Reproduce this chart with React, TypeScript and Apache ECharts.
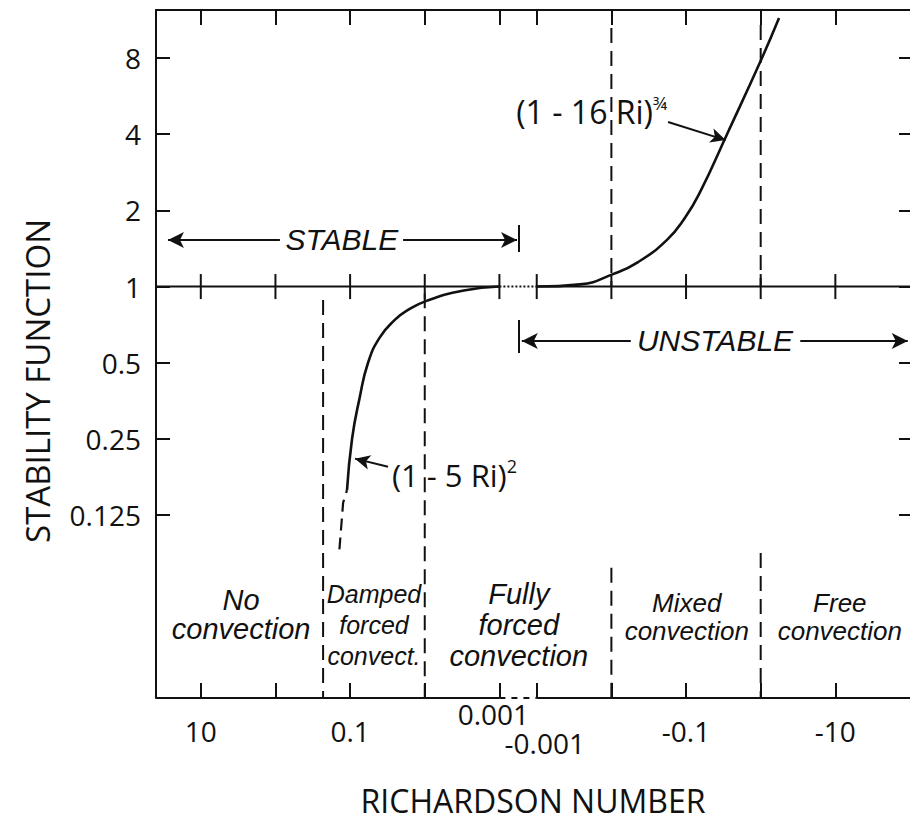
import React, { useEffect, useRef } from "react";
import * as echarts from "echarts";

// ---------- broken logarithmic Richardson-number axis ----------
// stable side (Ri > 0): position = -log10(Ri); unstable side continues after a gap
const GAP_DECADES = 0.5;
const riToU = (ri: number): number =>
  ri > 0 ? -Math.log10(ri) : 3 + GAP_DECADES + (Math.log10(-ri) + 3);

const X_MIN = -1.6;
const X_MAX = 8.5;
const Y_MIN = Math.pow(2, -5.4);
const Y_MAX = Math.pow(2, 3.63);

// ---------- ticks and tick labels ----------
const xTickRi = [10, 1, 0.1, 0.01, 0.001, -0.001, -0.01, -0.1, -1, -10];
const xLabelRi = [10, 0.1, 0.001, -0.001, -0.1, -10];
const xLabelText = ["10", "0.1", "0.001", "-0.001", "-0.1", "-10"];
const yTickValues = [0.125, 0.25, 0.5, 1, 2, 4, 8];
const yTickText = ["0.125", "0.25", "0.5", "1", "2", "4", "8"];

// ---------- curves ----------
// stable: (1 - 5 Ri)^2  (solid part)
const stableRi = [0.11, 0.0942, 0.075, 0.0575, 0.04, 0.025, 0.0178, 0.0093, 0.003, 0.001];
const stablePhi = [0.157, 0.25, 0.36, 0.5, 0.63, 0.74, 0.8, 0.88, 0.965, 1.0];
// stable: dashed tail
const stableTailRi = [0.139, 0.124, 0.11];
const stableTailPhi = [0.0915, 0.14, 0.157];
// unstable: (1 - 16 Ri)^(3/4)
const unstableRi = [-0.001, -0.0038, -0.0105, -0.0228, -0.0556, -0.0968, -0.154, -0.354, -1.04, -1.76];
const unstablePhi = [1.0, 1.02, 1.12, 1.25, 1.53, 1.87, 2.36, 4.0, 8.0, 11.5];

// ---------- regime boundaries (dashed verticals) ----------
const boundaryRi = [0.23, 0.01, -0.01, -0.01, -1, -1];
const boundaryTopPhi = [0.885, 0.94, 10.5, 0.0775, 10.8, 0.0885];
const boundaryBottomPhi = [Y_MIN, Y_MIN, 1, Y_MIN, 1, Y_MIN];

// ---------- regime names ----------
const regionNames = [
  "No\nconvection",
  "Damped\nforced\nconvect.",
  "Fully\nforced\nconvection",
  "Mixed\nconvection",
  "Free\nconvection",
];
const regionU = [-0.46, 1.32, 3.26, 5.51, 7.56];
const regionPhi = [0.0504, 0.046, 0.046, 0.0495, 0.0495];
const regionFont = [29, 25, 29, 26, 26];
const regionLineHeight = [29, 31, 31, 28, 28];

// ---------- stability-range arrows ----------
const rangeNames = ["STABLE", "UNSTABLE"];
const rangeTextU = [0.889, 5.888];
const rangePhi = [1.528, 0.61];
const rangeLeftArrow = [[-1.44, 0.06], [3.3, 4.76]];
const rangeRightArrow = [[1.71, 3.236], [7.03, 8.47]];
const rangeBarU = 3.263;
const rangeBarPhi = [[1.75, 1.37], [0.738, 0.547]];

const BLACK = "#111";
const LABEL_FONT = "'Open Sans', 'DejaVu Sans', sans-serif";
const ITALIC_FONT = "'Liberation Sans', Arial, sans-serif";

const pts = (ri: number[], phi: number[]) => ri.map((r, i) => [riToU(r), phi[i]]);

const seg = (data: any[], type: any, width = 2, clip = true, z = 3) => ({
  type: "line",
  data,
  symbol: "none",
  silent: true,
  clip,
  z,
  lineStyle: { color: BLACK, width, type, cap: "butt" },
});

const xLabelFormatter = (v: number) => {
  const i = xLabelRi.findIndex((r) => Math.abs(riToU(r) - v) < 1e-6);
  if (i < 0) return "";
  const t = xLabelText[i];
  if (xLabelRi[i] === 0.001) return `{hi|${t}}`;
  if (xLabelRi[i] === -0.001) return `{lo|${t}}`;
  return `{n|${t}}`;
};

const tickFont = { fontSize: 28, fontFamily: LABEL_FONT, color: BLACK, lineHeight: 30 };

const plainLabel = (extra: any) => ({
  show: true,
  position: "inside",
  color: BLACK,
  opacity: 1,
  textBorderWidth: 0,
  ...extra,
});

const arrowLine = (from: number[], to: number[], startArrow: boolean, endArrow: boolean) => [
  { coord: from, symbol: startArrow ? "arrow" : "none", symbolSize: [12, 16] },
  { coord: to, symbol: endArrow ? "arrow" : "none", symbolSize: [12, 16] },
];

const markLines: any[] = [];
rangeNames.forEach((_, i) => {
  markLines.push(arrowLine([rangeLeftArrow[i][0], rangePhi[i]], [rangeLeftArrow[i][1], rangePhi[i]], true, false));
  markLines.push(arrowLine([rangeRightArrow[i][0], rangePhi[i]], [rangeRightArrow[i][1], rangePhi[i]], false, true));
  markLines.push(arrowLine([rangeBarU, rangeBarPhi[i][0]], [rangeBarU, rangeBarPhi[i][1]], false, false));
});
// pointers to the curves
markLines.push([
  { coord: [5.259, 4.47], symbol: "none" },
  { coord: [6.03, 3.79], symbol: "arrow", symbolSize: [11, 15] },
]);
markLines.push([
  { coord: [1.508, 0.194], symbol: "none" },
  { coord: [1.066, 0.209], symbol: "arrow", symbolSize: [11, 15] },
]);

const option: any = {
  animation: false,
  backgroundColor: "#fff",
  grid: { left: 156, right: 0, top: 10, bottom: 127, containLabel: false, outerBoundsMode: "none" },
  xAxis: [
    {
      type: "value",
      position: "bottom",
      min: X_MIN,
      max: X_MAX,
      name: "RICHARDSON NUMBER",
      nameLocation: "middle",
      nameGap: 86,
      nameTextStyle: { fontSize: 32, fontFamily: LABEL_FONT, color: BLACK },
      axisLine: { show: false, onZero: false },
      splitLine: { show: false },
      axisTick: {
        show: true,
        inside: true,
        length: 15,
        customValues: xTickRi.map(riToU),
        lineStyle: { color: BLACK, width: 2 },
      },
      axisLabel: {
        show: true,
        margin: 1,
        customValues: xLabelRi.map(riToU),
        formatter: xLabelFormatter,
        rich: {
          n: { ...tickFont, padding: [34, 0, 0, 0] },
          hi: { ...tickFont, padding: [0, 12, 0, 0] },
          lo: { ...tickFont, padding: [58, 0, 0, 16] },
        },
      },
    },
    {
      type: "value",
      position: "top",
      min: X_MIN,
      max: X_MAX,
      axisLine: { show: true, onZero: false, lineStyle: { color: BLACK, width: 2 } },
      splitLine: { show: false },
      axisTick: {
        show: true,
        inside: true,
        length: 15,
        customValues: xTickRi.map(riToU),
        lineStyle: { color: BLACK, width: 2 },
      },
      axisLabel: { show: false },
    },
  ],
  yAxis: [
    {
      type: "log",
      logBase: 2,
      position: "left",
      min: Y_MIN,
      max: Y_MAX,
      name: "STABILITY FUNCTION",
      nameLocation: "middle",
      nameRotate: 90,
      nameGap: 102,
      nameTextStyle: { fontSize: 33, fontFamily: LABEL_FONT, color: BLACK, padding: [0, 54, 0, 0] },
      axisLine: { show: true, onZero: false, lineStyle: { color: BLACK, width: 2 } },
      splitLine: { show: false },
      minorTick: { show: false },
      axisTick: {
        show: true,
        inside: true,
        length: 14,
        customValues: yTickValues,
        lineStyle: { color: BLACK, width: 2 },
      },
      axisLabel: {
        show: true,
        margin: 15,
        customValues: yTickValues,
        formatter: (v: number) => {
          const i = yTickValues.findIndex((t) => Math.abs(t - v) < 1e-9);
          return i < 0 ? "" : yTickText[i];
        },
        fontSize: 28,
        fontFamily: LABEL_FONT,
        color: BLACK,
      },
    },
    {
      type: "log",
      logBase: 2,
      position: "right",
      min: Y_MIN,
      max: Y_MAX,
      axisLine: { show: false, onZero: false },
      splitLine: { show: false },
      axisTick: {
        show: true,
        inside: true,
        length: 11,
        customValues: yTickValues,
        lineStyle: { color: BLACK, width: 2 },
      },
      axisLabel: { show: false },
    },
  ],
  series: [
    // frame: bottom edge with a dashed break
    seg([[X_MIN, Y_MIN], [riToU(0.001), Y_MIN]], "solid", 2, false),
    seg([[riToU(0.001), Y_MIN], [riToU(-0.001), Y_MIN]], [6, 6], 2, false),
    seg([[riToU(-0.001), Y_MIN], [X_MAX, Y_MIN]], "solid", 2, false),
    // neutral line (phi = 1) with a dotted break; carries the annotation arrows
    {
      ...seg([[X_MIN, 1], [riToU(0.001), 1]], "solid", 2),
      markLine: {
        silent: true,
        symbol: ["none", "none"],
        label: { show: false },
        emphasis: { disabled: true },
        lineStyle: { color: BLACK, width: 2, type: "solid", opacity: 1 },
        itemStyle: { color: BLACK },
        data: markLines,
      },
    },
    seg([[riToU(0.001), 1], [riToU(-0.001), 1]], "dotted", 2),
    seg([[riToU(-0.001), 1], [X_MAX, 1]], "solid", 2),
    // ticks crossing the neutral line
    {
      type: "scatter",
      silent: true,
      symbol: "rect",
      symbolSize: [2, 25],
      itemStyle: { color: BLACK, opacity: 1 },
      data: xTickRi.map((r) => [riToU(r), 1]),
      z: 3,
    },
    // regime boundaries
    ...boundaryRi.map((r, i) =>
      seg([[riToU(r), boundaryTopPhi[i]], [riToU(r), boundaryBottomPhi[i]]], [15, 8], 2, false, 2)
    ),
    // curves
    {
      type: "line",
      data: pts(stableRi, stablePhi),
      symbol: "none",
      smooth: 0.5,
      silent: true,
      lineStyle: { color: BLACK, width: 2.6 },
      z: 4,
    },
    {
      type: "line",
      data: pts(stableTailRi, stableTailPhi),
      symbol: "none",
      silent: true,
      lineStyle: { color: BLACK, width: 2.2, type: [12, 7] },
      z: 4,
    },
    {
      type: "line",
      data: pts(unstableRi, unstablePhi),
      symbol: "none",
      smooth: 0.5,
      silent: true,
      lineStyle: { color: BLACK, width: 2.6 },
      z: 4,
    },
    // regime names
    {
      type: "scatter",
      silent: true,
      symbolSize: 0,
      itemStyle: { color: "#fff", opacity: 1 },
      z: 5,
      data: regionNames.map((name, i) => ({
        value: [regionU[i], regionPhi[i]],
        label: plainLabel({
          formatter: name,
          fontSize: regionFont[i],
          lineHeight: regionLineHeight[i],
          fontStyle: "italic",
          fontFamily: ITALIC_FONT,
          align: "center",
          verticalAlign: "middle",
        }),
      })),
    },
    // STABLE / UNSTABLE
    {
      type: "scatter",
      silent: true,
      symbolSize: 0,
      itemStyle: { color: "#fff", opacity: 1 },
      z: 5,
      data: rangeNames.map((name, i) => ({
        value: [rangeTextU[i], rangePhi[i]],
        label: plainLabel({
          formatter: name,
          fontSize: 30,
          fontStyle: "italic",
          fontFamily: ITALIC_FONT,
          align: "center",
          verticalAlign: "middle",
        }),
      })),
    },
    // formula labels
    {
      type: "scatter",
      silent: true,
      symbolSize: 0,
      itemStyle: { color: "#fff", opacity: 1 },
      z: 5,
      data: [
        {
          value: [5.245, 4.94],
          label: plainLabel({
            align: "right",
            verticalAlign: "middle",
            formatter: "{m|(1 - 16 Ri)}{s|¾}",
            rich: {
              m: { fontSize: 32, fontFamily: LABEL_FONT, color: BLACK, lineHeight: 34, verticalAlign: "bottom" },
              s: { fontSize: 18, fontFamily: LABEL_FONT, color: BLACK, lineHeight: 34, verticalAlign: "top" },
            },
          }),
        },
        {
          value: [1.56, 0.182],
          label: plainLabel({
            align: "left",
            verticalAlign: "middle",
            formatter: "{m|(1 - 5 Ri)}{s|2}",
            rich: {
              m: { fontSize: 31, fontFamily: LABEL_FONT, color: BLACK, lineHeight: 34, verticalAlign: "bottom" },
              s: { fontSize: 18, fontFamily: LABEL_FONT, color: BLACK, lineHeight: 34, verticalAlign: "top" },
            },
          }),
        },
      ],
    },
  ],
};

export default function App() {
  const ref = useRef<HTMLDivElement>(null);
  useEffect(() => {
    if (!ref.current) return;
    const chart = echarts.init(ref.current, null, { renderer: "svg" });
    chart.setOption(option);
    return () => chart.dispose();
  }, []);
  return (
    <div
      ref={ref}
      style={{ position: "absolute", left: 0, top: 0, width: 910, height: 825, background: "#fff" }}
    />
  );
}
